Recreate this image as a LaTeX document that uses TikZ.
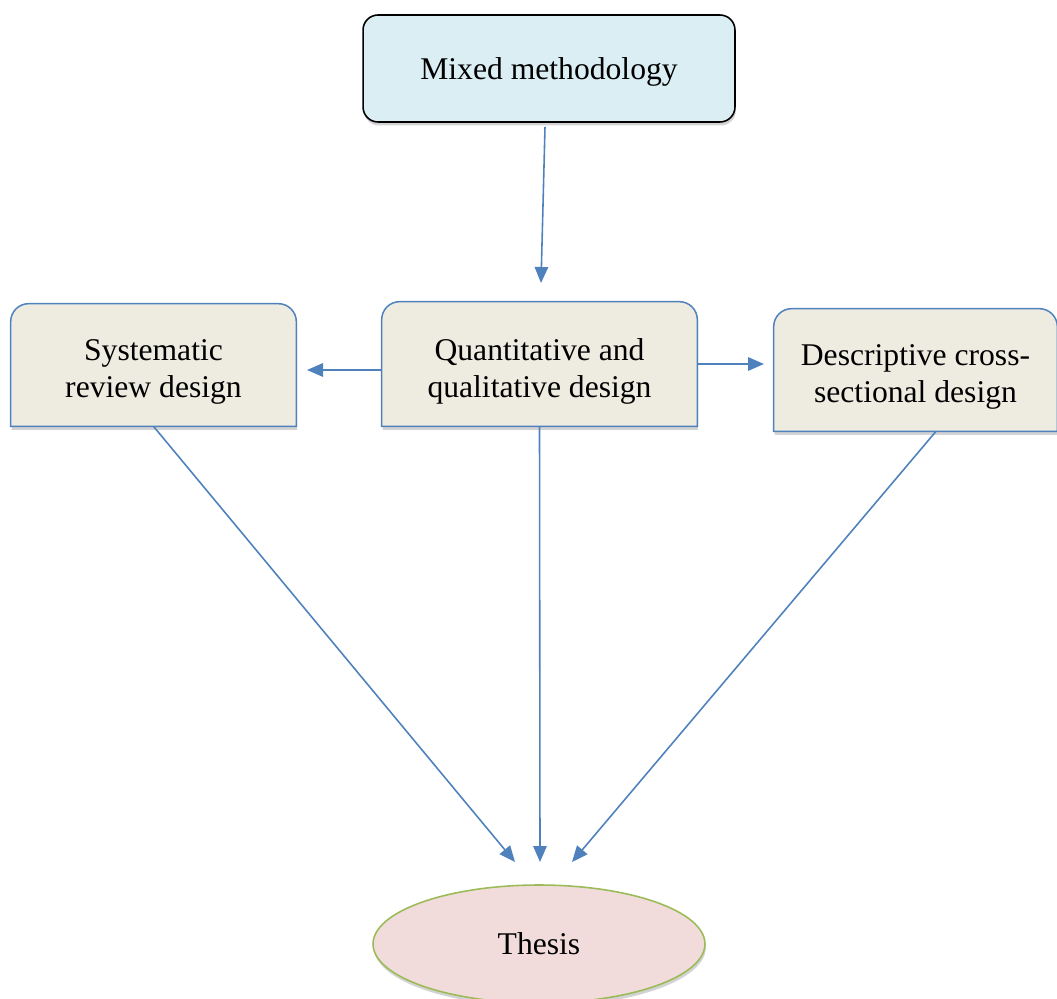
\documentclass[tikz,border=0pt]{standalone}
\usepackage{fontspec}
\setmainfont{Liberation Serif}
\usepackage{xcolor}
\usepackage{tikz}
\usetikzlibrary{shapes,arrows.meta,shadows,backgrounds}
\definecolor{methodblue}{HTML}{DAEEF3}
\definecolor{designtan}{HTML}{EEECE1}
\definecolor{thesispink}{HTML}{F2DCDB}
\definecolor{thesisgreen}{HTML}{9BBB59}
\definecolor{lineblue}{HTML}{4F81BD}
\tikzset{
  txt/.style={font=\fontsize{18}{21}\selectfont, align=center, inner sep=0pt},
  flow/.style={-{Triangle[length=0.32cm,width=0.27cm]}, color=lineblue, line width=0.9pt},
  softshadow/.style={drop shadow={shadow xshift=0.5pt, shadow yshift=-2pt, opacity=0.35}},
  designline/.style={draw=lineblue, fill=designtan, line width=0.85pt, softshadow}
}
% box with round top corners only, sitting a bit above its text
\newcommand{\designframe}[1]{%
  \filldraw[designline] ([yshift=0.14cm]#1.south west) -- ([yshift=-0.22cm]#1.north west)
    arc[start angle=180, end angle=90, radius=0.36cm] -- ([xshift=-0.36cm,yshift=0.14cm]#1.north east)
    arc[start angle=90, end angle=0, radius=0.36cm] -- ([yshift=0.14cm]#1.south east) -- cycle;}

\begin{document}
\begin{tikzpicture}[x=0.02cm, y=0.02cm]
\useasboundingbox (0,0) rectangle (1057,-999);
%top
\node[txt, draw=black, line width=0.9pt, fill=methodblue, rounded corners=0.3cm,
  text height=0.6cm, text depth=0.14cm,
  minimum width=7.44cm, minimum height=2.14cm, softshadow] (mixed) at (549,-68.5) {Mixed methodology};
%designs
\node[txt, minimum width=5.7cm, minimum height=2.44cm] (sysrev) at (153.5,-372) {Systematic\\review design};
\node[txt, minimum width=6.3cm, minimum height=2.48cm] (quantqual) at (539.5,-371) {Quantitative and\\qualitative design};
\node[txt, minimum width=5.66cm, minimum height=2.44cm] (descross) at (915.5,-377) {Descriptive cross-\\sectional design};
\begin{scope}[on background layer]
\designframe{sysrev}
\designframe{quantqual}
\designframe{descross}
\end{scope}
%thesis
\node[txt, ellipse, draw=thesisgreen, line width=0.9pt, fill=thesispink,
  minimum width=6.64cm, minimum height=2.36cm, softshadow] (thesis) at (539,-944) {Thesis};
%arrow ends
\coordinate (quantin) at (541,-283);
\coordinate (sysin) at (307,-370);
\coordinate (descin) at (764,-364);
\coordinate (thesisl) at (515,-862);
\coordinate (thesism) at (540,-862);
\coordinate (thesisr) at (572,-862);
%arrows
\draw[flow] ([xshift=-0.08cm,yshift=-0.08cm]mixed.south) -- (quantin);
\draw[flow] ([yshift=0.02cm]quantqual.west) -- (sysin);
\draw[flow] ([yshift=0.14cm]quantqual.east) -- (descin);
\draw[flow] ([yshift=0.14cm]sysrev.south) -- (thesisl);
\draw[flow] ([yshift=0.14cm]quantqual.south) -- (thesism);
\draw[flow] ([xshift=0.41cm,yshift=0.14cm]descross.south) -- (thesisr);
\end{tikzpicture}
\end{document}
